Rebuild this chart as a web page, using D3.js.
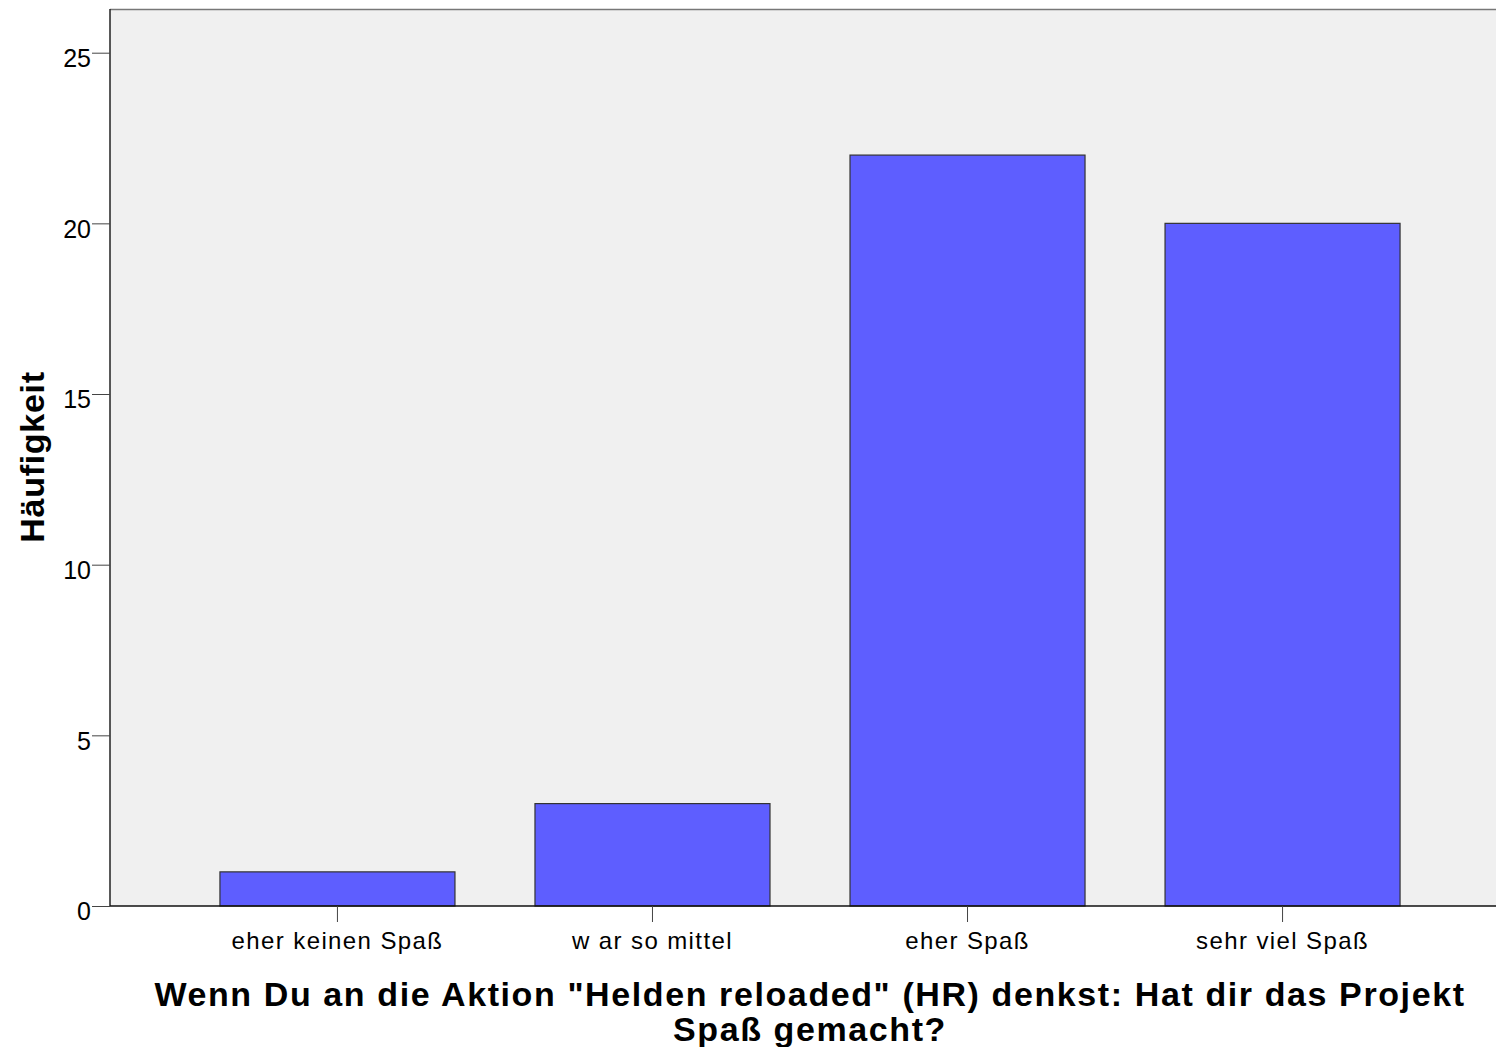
<!DOCTYPE html>
<html><head><meta charset="utf-8">
<script src="https://cdn.jsdelivr.net/npm/d3@7"></script>
<style>
html,body{margin:0;padding:0;background:#fff;}
svg{display:block;font-family:"Liberation Sans",Arial,sans-serif;}
</style></head>
<body>
<svg id="chart" width="1496" height="1047"></svg>
<script>
const categories = ["eher keinen Spaß", "w ar so mittel", "eher Spaß", "sehr viel Spaß"];
const values = [1, 3, 22, 20];
const yTicks = [0, 5, 10, 15, 20, 25];
const yLabel = "Häufigkeit";
const xTitleLines = ["Wenn Du an die Aktion \"Helden reloaded\" (HR) denkst: Hat dir das Projekt", "Spaß gemacht?"];

(function () {
const svg = d3.select("#chart");
const pLeft = 110, pTop = 9, pRight = 1496, pBottom = 906;

const y = d3.scaleLinear().domain([0, 26.28]).range([pBottom, pTop]);
const x = d3.scaleBand().domain(categories).range([pLeft, 1510]).paddingInner(0.254).paddingOuter(0.349);

// plot background
svg.append("rect").attr("x", pLeft).attr("y", pTop).attr("width", pRight - pLeft).attr("height", pBottom - pTop)
  .attr("fill", "#f0f0f0");
svg.append("line").attr("x1", pLeft).attr("x2", pRight).attr("y1", pTop + 0.5).attr("y2", pTop + 0.5)
  .attr("stroke", "#777").attr("stroke-width", 1.5);

// bars
svg.append("g").selectAll("rect").data(values).join("rect")
  .attr("x", (d, i) => x(categories[i]))
  .attr("y", d => y(d))
  .attr("width", x.bandwidth())
  .attr("height", d => y(0) - y(d))
  .attr("fill", "#5e5eff")
  .attr("stroke", "#333").attr("stroke-width", 1.2);

// y axis
const yAxis = svg.append("g").attr("transform", `translate(${pLeft},0)`)
  .call(d3.axisLeft(y).tickValues(yTicks).tickSize(18).tickPadding(1).tickSizeOuter(0));
yAxis.select(".domain").attr("stroke", "#222").attr("stroke-width", 1.5).attr("d", `M0,${pTop}V${pBottom}`);
yAxis.selectAll(".tick line").attr("stroke", "#444");
yAxis.selectAll(".tick text").attr("font-size", 25).attr("fill", "#000").attr("dy", "0.55em")
  .attr("font-family", "Liberation Sans, Arial, sans-serif");

// x axis
const xAxis = svg.append("g").attr("transform", `translate(0,${pBottom})`)
  .call(d3.axisBottom(x).tickSize(16).tickPadding(10).tickSizeOuter(0));
xAxis.select(".domain").attr("stroke", "#111").attr("stroke-width", 1.5).attr("d", `M${pLeft},0H${pRight}`);
xAxis.selectAll(".tick line").attr("stroke", "#444");
xAxis.selectAll(".tick text").attr("font-size", 24).attr("fill", "#000").attr("letter-spacing", 1.4)
  .attr("font-family", "Liberation Sans, Arial, sans-serif");

// y label
svg.append("text").attr("transform", "translate(44,457) rotate(-90)")
  .attr("text-anchor", "middle").attr("font-size", 34).attr("font-weight", "bold")
  .attr("letter-spacing", 0.7).text(yLabel);

// x title
svg.append("g").selectAll("text").data(xTitleLines).join("text")
  .attr("x", 810).attr("y", (d, i) => 1006 + i * 35)
  .attr("text-anchor", "middle").attr("font-size", 34).attr("font-weight", "bold")
  .attr("letter-spacing", 1.6).text(d => d);
})();
</script>
</body></html>
